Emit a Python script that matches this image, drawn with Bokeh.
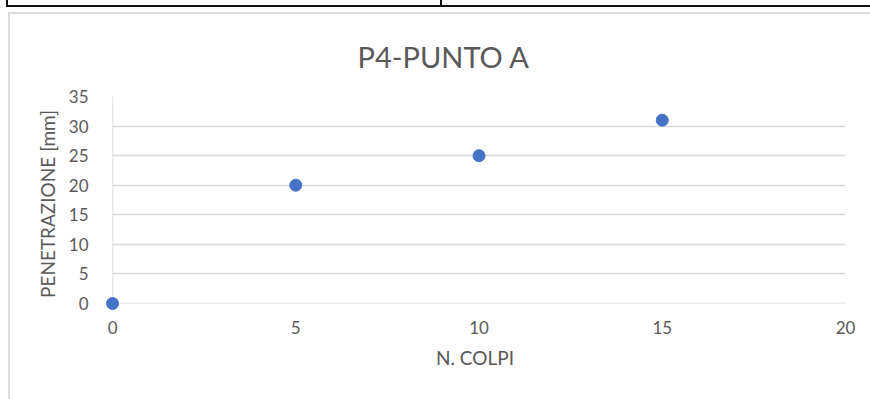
from bokeh.plotting import figure
from bokeh.models import Range1d, Div, BoxAnnotation, FixedTicker, Grid, Title
from bokeh.layouts import column, row
from bokeh.embed import file_html
from bokeh.resources import INLINE

# ---- data ----
colpi = [0, 5, 10, 15]
penetrazione = [0, 20, 25, 31]
x_ticks = [0, 5, 10, 15, 20]
y_ticks = [0, 5, 10, 15, 20, 25, 30, 35]
chart_title = "P4-PUNTO A"
x_title = "N. COLPI"
y_title = "PENETRAZIONE [mm]"

FONT = "Lato"
TXT = "#595959"

p = figure(width=860, height=385, output_backend="svg", toolbar_location=None,
           x_range=Range1d(-0.22, 20), y_range=Range1d(-1.35, 35),
           min_border_left=94, min_border_right=25, min_border_top=82, min_border_bottom=88)
p.outline_line_color = None
p.background_fill_color = "white"
p.border_fill_color = "white"
p.grid.visible = False

t = Title(text=chart_title, align="left", text_font=FONT, text_font_size="29px",
          text_font_style="normal", text_color=TXT, standoff=45, offset=253)
p.add_layout(t, "above")

ygrid = Grid(dimension=1, ticker=FixedTicker(ticks=y_ticks), grid_line_color="#d9d9d9", grid_line_width=1.3)
xzero = Grid(dimension=0, ticker=FixedTicker(ticks=[x_ticks[0]]), grid_line_color="#c8c8c8", grid_line_width=1.3)
p.add_layout(ygrid)
p.add_layout(xzero)
p.add_layout(BoxAnnotation(right=0, fill_color="white", fill_alpha=1, line_color=None, level="underlay"))
p.add_layout(BoxAnnotation(top=0, fill_color="white", fill_alpha=1, line_color=None, level="underlay"))

xa = p.xaxis[0]
ya = p.yaxis[0]
xa.ticker = FixedTicker(ticks=x_ticks)
ya.ticker = FixedTicker(ticks=y_ticks)
xa.axis_label = x_title
ya.axis_label = y_title
for ax in (xa, ya):
    ax.axis_line_color = None
    ax.major_tick_line_color = None
    ax.minor_tick_line_color = None
    ax.major_label_text_font = FONT
    ax.major_label_text_font_size = "17px"
    ax.major_label_text_color = TXT
    ax.axis_label_text_font = FONT
    ax.axis_label_text_font_size = "19px"
    ax.axis_label_text_font_style = "normal"
    ax.axis_label_text_color = TXT
xa.major_label_standoff = 3
xa.axis_label_standoff = 9
ya.major_label_standoff = 10
ya.axis_label_standoff = 7

p.scatter(colpi, penetrazione, size=12, fill_color="#4472C4", line_color="#4472C4")

top_html = """
<div style="position:relative;width:870px;height:14px;background:white;">
  <div style="position:absolute;left:6px;top:0px;width:2px;height:7px;background:#111;"></div>
  <div style="position:absolute;left:440px;top:0px;width:2px;height:7px;background:#111;"></div>
  <div style="position:absolute;left:6px;top:5px;width:864px;height:2px;background:#111;"></div>
  <div style="position:absolute;left:8px;top:12px;width:862px;height:2px;background:#dcdcdc;"></div>
</div>
"""
left_html = """
<div style="position:relative;width:10px;height:385px;background:white;">
  <div style="position:absolute;left:8px;top:0px;width:2px;height:385px;background:#dcdcdc;"></div>
</div>
"""
top_div = Div(text=top_html, width=870, height=14, margin=0)
left_div = Div(text=left_html, width=10, height=385, margin=0)
p.margin = 0

layout = column(top_div, row(left_div, p, spacing=0, margin=0), spacing=0, margin=0)

open("out.html", "w").write(file_html(layout, INLINE))
